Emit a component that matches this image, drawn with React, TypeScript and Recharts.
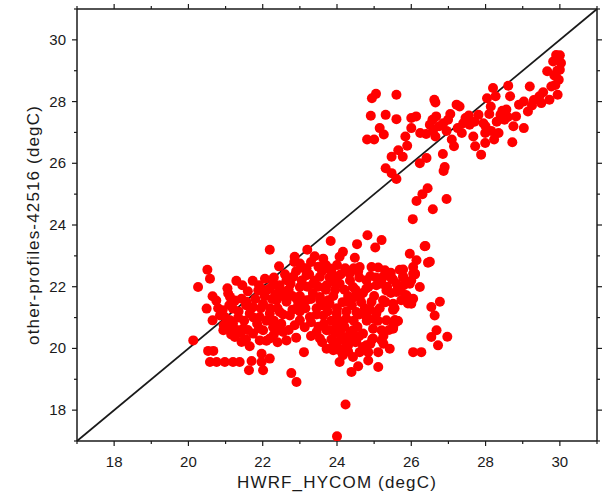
import React from "react";
import {
  ScatterChart,
  Scatter,
  XAxis,
  YAxis,
  ReferenceLine,
} from "recharts";

// HWRF_HYCOM (x) vs other-profiles-42516 (y), degC
const upperCluster: [number, number][] = [
  [24.94, 28.11], [25.05, 28.25], [25.6, 28.22], [24.91, 27.54], [24.81, 26.77],
  [25.0, 26.77], [25.31, 27.57], [25.15, 27.14], [25.26, 26.93], [25.6, 27.43],
  [25.47, 26.21], [25.77, 26.21], [25.31, 25.84], [25.47, 25.68], [25.6, 25.49],
  [25.65, 26.42], [26.23, 26.0], [26.41, 26.17], [26.85, 26.3], [26.9, 25.88],
  [26.87, 25.75], [26.44, 25.19], [26.3, 25.0], [26.14, 24.78], [26.58, 24.51],
  [26.04, 24.19], [26.95, 24.84],
  [25.84, 26.87], [25.89, 26.57], [26.0, 27.47], [26.0, 27.14], [26.13, 27.52],
  [26.24, 26.98], [26.62, 28.06], [26.65, 27.97], [26.57, 27.41], [26.59, 27.09],
  [26.65, 26.87], [26.67, 27.52], [26.86, 27.3], [26.99, 27.41], [27.15, 26.55],
  [27.09, 26.77], [27.22, 27.9], [27.3, 27.84], [27.25, 27.14], [27.36, 26.98],
  [27.46, 27.47], [27.57, 27.25], [27.67, 26.87], [27.72, 26.55], [27.88, 26.28],
  [27.81, 27.57], [27.94, 27.3], [27.99, 26.98], [27.99, 26.66], [28.04, 28.11],
  [28.14, 27.84], [28.2, 28.44], [28.27, 28.17], [28.23, 26.77], [28.35, 26.98],
  [28.4, 27.57], [28.51, 27.41], [28.56, 27.74], [28.61, 28.51], [28.66, 28.17],
  [28.72, 26.68], [28.75, 27.2], [28.82, 27.52], [29.03, 27.14], [29.03, 28.0],
  [29.19, 28.49], [29.14, 27.68], [29.25, 27.87], [29.45, 28.17], [29.5, 27.95],
  [29.66, 28.98], [29.72, 28.06], [29.77, 28.49], [29.82, 29.3], [29.9, 29.51],
  [29.97, 29.35], [30.0, 29.03], [29.97, 28.71], [29.94, 28.22], [30.03, 29.25],
  [29.88, 28.54],
  [26.75, 27.2], [26.95, 27.05], [27.05, 27.6], [27.4, 27.3], [27.55, 27.55],
  [27.7, 27.35], [28.1, 27.6], [28.3, 27.35], [28.45, 27.7], [28.6, 27.5],
  [28.9, 27.9], [29.3, 28.05], [29.55, 28.3], [29.85, 28.85], [30.0, 29.5],
  [29.93, 29.0], [28.0, 27.2], [28.15, 27.05], [26.4, 26.95], [26.5, 27.25],
];

const lowerCluster: [number, number][] = [
  [24.82, 23.67], [25.2, 23.51], [23.83, 23.48], [24.54, 23.38], [25.03, 23.27],
  [26.36, 23.31], [22.19, 23.2], [23.2, 23.2], [24.16, 23.13], [23.4, 22.99],
  [23.63, 22.91], [24.07, 22.97], [24.48, 22.94], [25.96, 23.07], [26.14, 22.86],
  [22.86, 22.97], [22.44, 22.66], [23.0, 22.75], [26.45, 22.78], [20.51, 22.55],
  [20.58, 22.26], [23.81, 22.59], [24.25, 22.53], [24.61, 22.64], [24.93, 22.64],
  [25.11, 22.62], [25.29, 22.53], [25.69, 22.55], [26.05, 22.64], [26.05, 22.42],
  [20.26, 21.99], [21.29, 22.19], [21.73, 22.19], [22.06, 22.26], [22.28, 22.12],
  [22.64, 22.21], [22.82, 22.32], [23.18, 22.37], [23.54, 22.32], [23.99, 22.32],
  [24.34, 22.42], [24.79, 22.21], [25.24, 22.32], [25.51, 22.23], [25.78, 22.32],
  [25.96, 22.1], [26.23, 21.99], [20.65, 21.69], [21.07, 21.78], [21.12, 21.67],
  [21.43, 21.61], [21.88, 21.88], [22.15, 21.91], [22.46, 21.94], [22.68, 21.88],
  [23.0, 21.99], [23.36, 22.1], [23.72, 22.05], [24.07, 22.1], [24.43, 21.99],
  [24.79, 21.94], [25.06, 22.05], [25.33, 21.88], [25.6, 21.83], [25.87, 21.72],
  [26.05, 21.61], [20.49, 21.29], [20.92, 21.24], [21.2, 21.29], [21.56, 21.51],
  [21.74, 21.34], [22.01, 21.45], [22.37, 21.56], [22.64, 21.51], [22.91, 21.61],
  [23.18, 21.56], [23.54, 21.67], [23.76, 21.56], [24.25, 21.51], [24.61, 21.67],
  [24.93, 21.51], [25.24, 21.56], [25.51, 21.45], [25.73, 21.56], [26.0, 21.45],
  [26.54, 21.34], [26.77, 21.51], [20.65, 20.91], [20.85, 21.07], [21.12, 20.91],
  [21.34, 21.0], [21.65, 21.13], [21.92, 21.02], [22.19, 21.13], [22.46, 21.18],
  [22.73, 21.07], [23.0, 20.91], [23.27, 21.02], [23.63, 21.07], [23.99, 21.13],
  [24.25, 20.97], [24.52, 21.18], [24.79, 21.04], [25.06, 21.13], [25.33, 20.91],
  [25.64, 20.89], [26.63, 21.07], [20.13, 20.26], [20.94, 20.59], [21.16, 20.69],
  [21.47, 20.64], [21.74, 20.48], [22.01, 20.59], [22.28, 20.69], [22.55, 20.53],
  [22.86, 20.75], [23.13, 20.69], [23.45, 20.53], [23.72, 20.59], [23.99, 20.69],
  [24.16, 20.37], [24.43, 20.59], [24.7, 20.48], [24.97, 20.64], [25.2, 20.59],
  [25.51, 20.64], [26.54, 20.37], [26.68, 20.59], [21.25, 20.37], [21.43, 20.21],
  [21.65, 20.07], [21.92, 20.26], [22.19, 20.32], [22.64, 20.26], [23.54, 20.32],
  [23.72, 19.99], [23.99, 20.15], [24.25, 20.15], [24.52, 20.26], [24.79, 20.1],
  [24.97, 20.32], [25.2, 20.26], [25.42, 19.99], [26.72, 20.1], [20.53, 19.92],
  [20.67, 19.92], [20.58, 19.56], [20.76, 19.56], [20.98, 19.56], [21.2, 19.56],
  [21.38, 19.56], [21.7, 19.59], [21.97, 19.83], [22.19, 19.67], [21.97, 19.56],
  [23.11, 19.88], [23.9, 19.94], [24.16, 19.78], [24.43, 19.72], [24.61, 19.88],
  [24.84, 19.88], [25.11, 19.88], [26.05, 19.88], [26.27, 19.88], [21.63, 19.29],
  [22.01, 19.29], [22.77, 19.2], [22.91, 18.91], [24.07, 19.56], [24.39, 19.24],
  [24.57, 19.42], [24.84, 19.61], [25.11, 19.4], [24.23, 18.18], [24.0, 17.15],
  [26.97, 20.38], [25.63, 20.89], [25.52, 20.73], [25.52, 21.27], [26.5, 22.81],
  [26.38, 23.32], [26.1, 22.4], [25.78, 22.56],
  [22.6, 22.4], [22.75, 22.1], [22.9, 22.5], [23.05, 22.2], [23.1, 22.6],
  [23.25, 22.4], [23.35, 21.8], [23.5, 22.0], [23.6, 22.5], [22.8, 21.7],
  [22.95, 21.4], [23.15, 21.3], [23.3, 21.6], [23.45, 21.3], [22.7, 21.9],
  [23.0, 21.7], [23.2, 22.0], [23.4, 22.2], [22.85, 22.8], [23.55, 21.55],
  [23.7, 21.9], [23.8, 22.3], [23.9, 21.7], [22.5, 21.8], [22.4, 21.3],
  [22.55, 21.1], [23.75, 21.2], [23.85, 20.9], [23.95, 20.5], [24.05, 20.9],
  [24.1, 20.3], [24.2, 20.7], [24.3, 20.1], [24.35, 20.5], [24.45, 20.9],
  [24.5, 20.2], [24.0, 21.3], [24.15, 21.5], [24.25, 21.2], [24.4, 21.4],
  [24.55, 20.7], [24.6, 21.1], [23.9, 20.1], [24.05, 19.95], [24.2, 20.0],
  [24.3, 19.9], [24.4, 20.35], [24.1, 20.6], [23.8, 20.6], [23.65, 20.8],
  [21.0, 21.0], [21.2, 20.8], [21.35, 21.2], [21.5, 20.9], [21.6, 20.6],
  [21.75, 21.0], [21.85, 20.8], [21.95, 21.3], [22.1, 20.9], [22.2, 21.3],
  [22.3, 20.9], [22.4, 20.6], [21.4, 20.5], [21.55, 21.4], [21.8, 21.6],
  [22.05, 21.7], [22.25, 21.6], [21.3, 20.6], [21.1, 21.4],
  [24.7, 21.8], [24.85, 22.0], [25.0, 21.7], [25.15, 21.3], [25.3, 21.5],
  [25.45, 21.8], [25.6, 22.1], [24.8, 20.9], [24.95, 20.3], [25.1, 20.9],
  [25.25, 20.4], [25.4, 20.6], [25.55, 21.3], [25.7, 21.9], [24.75, 21.3],
  [25.05, 22.3], [25.35, 22.0],
  [23.7, 22.7], [23.85, 22.5], [24.0, 22.7], [24.1, 22.4], [24.2, 21.9],
  [24.35, 22.2], [24.45, 22.6], [24.3, 21.7], [24.5, 21.9], [23.95, 21.9],
  [23.3, 22.8], [23.5, 22.65], [23.9, 22.15], [24.6, 22.3], [24.9, 22.35],
  [25.2, 22.1], [25.45, 22.45], [25.8, 22.05], [26.0, 22.2], [25.64, 21.95],
  [25.83, 21.73], [25.91, 21.46], [25.29, 21.51], [25.51, 21.25], [25.56, 20.92],
  [25.47, 22.27], [25.78, 22.32], [26.1, 22.43], [24.57, 22.49], [24.22, 22.6],
  [23.68, 22.6], [23.18, 22.6], [22.3, 22.3], [22.45, 22.05], [22.6, 21.65],
  [22.2, 21.95], [22.0, 21.9], [21.6, 21.85], [21.45, 22.05], [21.9, 22.05],
  [22.35, 21.75], [22.8, 21.25], [23.0, 21.2], [23.1, 21.5], [23.3, 20.85],
  [23.45, 21.1], [23.6, 21.4], [23.8, 21.45], [23.5, 20.7], [23.3, 20.4],
  [23.6, 20.2], [23.85, 20.3], [24.0, 20.05], [24.3, 20.3], [24.6, 20.4],
  [24.7, 20.05], [24.9, 20.15], [25.0, 20.95], [25.25, 20.15], [24.65, 21.5],
  [24.9, 21.25], [24.45, 21.65], [22.9, 20.35], [22.7, 20.6], [22.5, 20.8],
  [22.3, 20.45], [21.9, 20.65], [21.55, 20.3], [21.15, 20.45], [20.95, 20.75],
  [20.8, 21.3], [20.75, 21.55], [21.25, 21.55], [21.05, 21.95], [22.1, 20.25],
  [22.4, 20.2],
];

const axisTicks = [17, 18, 19, 20, 21, 22, 23, 24, 25, 26, 27, 28, 29, 30, 31];
const axisDomain: [number, number] = [17, 31];
const xTitle = "HWRF_HYCOM (degC)";
const yTitle = "other-profiles-42516 (degC)";

const points = [...lowerCluster, ...upperCluster].map(([x, y]) => ({ x, y }));

const FONT = "'Liberation Sans', Arial, Helvetica, sans-serif";
const INK = "#1a1a1a";

const isMajor = (v: number) => v % 2 === 0;

const BottomTick = (props: any) => {
  const { x, y, payload } = props;
  const v = payload.value;
  const major = isMajor(v);
  return (
    <g>
      <line x1={x} x2={x} y1={y} y2={y + (major ? 5 : 3)} stroke={INK} strokeWidth={1.2} />
      {major && (
        <text x={x} y={y + 26} textAnchor="middle" fontSize={15} fontFamily={FONT} fill={INK}>
          {v}
        </text>
      )}
    </g>
  );
};

const TopTick = (props: any) => {
  const { x, y, payload } = props;
  const major = isMajor(payload.value);
  return <line x1={x} x2={x} y1={y} y2={y - (major ? 5 : 3)} stroke={INK} strokeWidth={1.2} />;
};

const LeftTick = (props: any) => {
  const { x, y, payload } = props;
  const v = payload.value;
  const major = isMajor(v);
  return (
    <g>
      <line x1={x} x2={x - (major ? 5 : 3)} y1={y} y2={y} stroke={INK} strokeWidth={1.2} />
      {major && (
        <text x={x - 11} y={y + 5} textAnchor="end" fontSize={15} fontFamily={FONT} fill={INK}>
          {v}
        </text>
      )}
    </g>
  );
};

const RightTick = (props: any) => {
  const { x, y, payload } = props;
  const major = isMajor(payload.value);
  return <line x1={x} x2={x + (major ? 5 : 3)} y1={y} y2={y} stroke={INK} strokeWidth={1.2} />;
};

const XTitle = (props: any) => {
  const vb = props.viewBox || { x: 77, y: 441, width: 520, height: 56 };
  return (
    <text
      x={vb.x + vb.width / 2}
      y={vb.y + 47}
      textAnchor="middle"
      fontSize={17}
      letterSpacing={1.15}
      fontFamily={FONT}
      fill={INK}
    >
      {xTitle}
    </text>
  );
};

const YTitle = (props: any) => {
  const vb = props.viewBox || { x: 0, y: 9, width: 77, height: 432 };
  const cy = vb.y + vb.height / 2;
  return (
    <text
      transform={`translate(39, ${cy}) rotate(-90)`}
      textAnchor="middle"
      fontSize={17}
      letterSpacing={1.15}
      fontFamily={FONT}
      fill={INK}
    >
      {yTitle}
    </text>
  );
};

const Dot = (props: any) => {
  const { cx, cy } = props;
  if (cx == null || cy == null) return <g />;
  return <circle cx={cx} cy={cy} r={5} fill="#ff0000" />;
};

export default function App() {
  return (
    <div style={{ position: "absolute", left: 0, top: 0, background: "#fff" }}>
      <ScatterChart
        width={610}
        height={497}
        margin={{ top: 8, right: 12, bottom: 0, left: 0 }}
      >
        <XAxis
          dataKey="x"
          type="number"
          domain={axisDomain}
          ticks={axisTicks}
          allowDataOverflow
          height={56}
          tickSize={0}
          tickMargin={0}
          tickLine={false}
          axisLine={{ stroke: INK, strokeWidth: 1.5 }}
          tick={<BottomTick />}
          interval={0}
          label={<XTitle />}
        />
        <XAxis
          xAxisId="top"
          dataKey="x"
          orientation="top"
          type="number"
          domain={axisDomain}
          ticks={axisTicks}
          allowDataOverflow
          height={1}
          tickSize={0}
          tickMargin={0}
          tickLine={false}
          axisLine={{ stroke: INK, strokeWidth: 1.5 }}
          tick={<TopTick />}
          interval={0}
        />
        <YAxis
          dataKey="y"
          type="number"
          domain={axisDomain}
          ticks={axisTicks}
          allowDataOverflow
          width={77}
          tickSize={0}
          tickMargin={0}
          tickLine={false}
          axisLine={{ stroke: INK, strokeWidth: 1.5 }}
          tick={<LeftTick />}
          interval={0}
          label={<YTitle />}
        />
        <YAxis
          yAxisId="right"
          dataKey="y"
          orientation="right"
          type="number"
          domain={axisDomain}
          ticks={axisTicks}
          allowDataOverflow
          width={1}
          tickSize={0}
          tickMargin={0}
          tickLine={false}
          axisLine={{ stroke: INK, strokeWidth: 1.5 }}
          tick={<RightTick />}
          interval={0}
        />
        <Scatter data={points} shape={<Dot />} isAnimationActive={false} />
        <ReferenceLine
          segment={[{ x: 17, y: 17 }, { x: 31, y: 31 }]}
          stroke={INK}
          strokeWidth={1.7}
          ifOverflow="visible"
        />
      </ScatterChart>
    </div>
  );
}
